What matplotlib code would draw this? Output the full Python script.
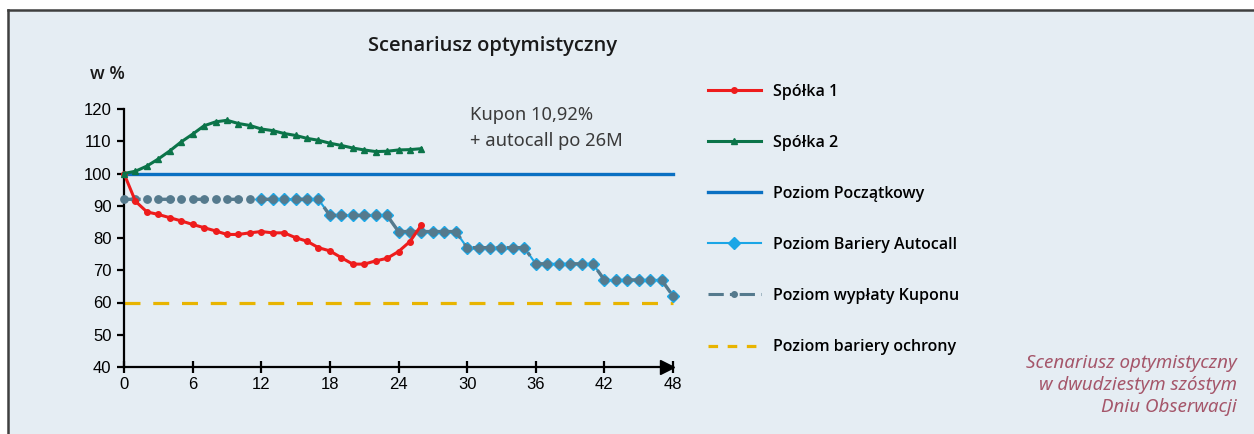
import matplotlib
matplotlib.use("Agg")
import matplotlib.pyplot as plt
import matplotlib.transforms as mtransforms
from matplotlib.lines import Line2D
from matplotlib.patches import Rectangle

# ---------------- data ----------------
months = list(range(0, 49))
spolka1_months = list(range(0, 27))
spolka1 = [100, 91.4, 88.1, 87.3, 86.3, 85.3, 84.2, 83.2, 82.2, 81.1, 81.1, 81.6, 82.0,
           81.6, 81.6, 80.1, 79.0, 77.0, 76.0, 73.9, 71.9, 71.9, 72.9, 73.7, 75.8, 78.9, 84.0]
spolka2 = [100, 100.7, 102.3, 104.5, 107.0, 109.8, 112.2, 114.8, 116.0, 116.5, 115.5, 114.9,
           113.8, 113.3, 112.4, 111.8, 110.9, 110.3, 109.4, 108.7, 107.9, 107.3, 106.8, 106.9,
           107.3, 107.4, 107.7]
poziom_poczatkowy = [100] * 49
autocall_months = list(range(12, 49))
autocall = [92] * 6 + [87] * 6 + [82] * 6 + [77] * 6 + [72] * 6 + [67] * 6 + [62]
kupon = [92] * 12 + autocall
ochrona = [60] * 49

xticks = [0, 6, 12, 18, 24, 30, 36, 42, 48]
yticks = [40, 50, 60, 70, 80, 90, 100, 110, 120]

labels = ["Spółka 1", "Spółka 2", "Poziom Początkowy", "Poziom Bariery Autocall",
          "Poziom wypłaty Kuponu", "Poziom bariery ochrony"]

# ---------------- colours ----------------
c_red = "#EE1C1C"
c_green = "#0B7449"
c_blue = "#0A70C2"
c_cyan = "#1AA6E6"
c_gray = "#557A8D"
c_yellow = "#E8B400"
bg = "#E5EDF3"

W, H = 1254, 434
fig = plt.figure(figsize=(W / 100, H / 100), dpi=100)
fig.patch.set_facecolor("white")

# panel background and border
fig.add_artist(Rectangle((8 / W, 0), 1 - 8 / W, 1 - 10 / H, transform=fig.transFigure,
                         facecolor=bg, edgecolor="none", zorder=-10))
fig.add_artist(Line2D([8 / W, 1], [1 - 10 / H, 1 - 10 / H], transform=fig.transFigure,
                      color="#3f3f3f", lw=1.8))
fig.add_artist(Line2D([8 / W, 8 / W], [0, 1 - 10 / H], transform=fig.transFigure,
                      color="#3f3f3f", lw=1.8))

ax = fig.add_axes([124 / W, (H - 367) / H, 549 / W, 258 / H])
ax.set_facecolor("none")
ax.set_xlim(0, 48)
ax.set_ylim(40, 120)

# series
ax.plot(months, ochrona, color=c_yellow, lw=2.3, dashes=(5, 4), clip_on=False, zorder=2)
ax.plot(months, poziom_poczatkowy, color=c_blue, lw=2.4, clip_on=False, zorder=3)
ax.plot(autocall_months, autocall, color=c_cyan, lw=1.5, marker="D", ms=6.5,
        mfc=c_cyan, mec=c_cyan, clip_on=False, zorder=4)
ax.plot(months, kupon, color=c_gray, lw=2.4, dashes=(5, 2, 1.2, 2), marker="o", ms=5.3,
        mfc=c_gray, mec=c_gray, clip_on=False, zorder=5)
ax.plot(spolka1_months, spolka1, color=c_red, lw=2.2, marker="o", ms=4,
        mfc=c_red, mec=c_red, clip_on=False, zorder=6)
ax.plot(spolka1_months, spolka2, color=c_green, lw=2.2, marker="^", ms=4.5,
        mfc=c_green, mec=c_green, clip_on=False, zorder=6)

# axes styling
for s in ["top", "right"]:
    ax.spines[s].set_visible(False)
for s in ["left", "bottom"]:
    ax.spines[s].set_linewidth(1.6)
    ax.spines[s].set_color("black")
ax.set_xticks(xticks)
ax.set_yticks(yticks)
tick_font = dict(family="Liberation Sans", size=12)
ax.set_xticklabels([str(t) for t in xticks], **tick_font)
ax.set_yticklabels([str(t) for t in yticks], **tick_font)
ax.tick_params(axis="x", direction="inout", length=9, width=1.6, pad=3)
ax.tick_params(axis="y", direction="out", length=5, width=1.6, pad=4)
# arrow head on the x axis
arrow_tr = ax.transAxes + mtransforms.ScaledTranslation(-6 / 100, 0, fig.dpi_scale_trans)
ax.plot([1.0], [0.0], marker=">", ms=10, color="black", transform=arrow_tr,
        clip_on=False, zorder=7)

# texts
semi = "semibold"
fig.text(493 / W, 1 - 46 / H, "Scenariusz optymistyczny", ha="center", va="center",
         family="Open Sans", fontsize=14.5, weight=semi, color="#1a1a1a")
fig.text(107 / W, 1 - 74 / H, "w %", ha="center", va="center", family="Open Sans",
         fontsize=13, weight=semi, color="#1a1a1a")
fig.text(470 / W, 1 - 128 / H, "Kupon 10,92%\n+ autocall po 26M", ha="left", va="center",
         family="Noto Sans", fontsize=13.2, color="#3a3a3a", linespacing=1.55, weight="light")
fig.text(1237 / W, 1 - 385 / H,
         "Scenariusz optymistyczny\nw dwudziestym szóstym\nDniu Obserwacji",
         ha="right", va="center", family="Noto Sans", style="italic", fontsize=13.5,
         color="#A5566A", linespacing=1.3, weight="light")

# legend
handles = [
    Line2D([], [], color=c_red, lw=2.2, marker="o", ms=4),
    Line2D([], [], color=c_green, lw=2.2, marker="^", ms=4),
    Line2D([], [], color=c_blue, lw=2.4),
    Line2D([], [], color=c_cyan, lw=1.5, marker="D", ms=6),
    Line2D([], [], color=c_gray, lw=2.2, dashes=(5, 2, 1.2, 2), marker="o", ms=4),
    Line2D([], [], color=c_yellow, lw=2.3, dashes=(3, 3)),
]
leg = fig.legend(handles, labels, loc="upper left", bbox_to_anchor=(708 / W, 1 - 83.5 / H),
                 frameon=False, handlelength=3.3, handletextpad=0.75, labelspacing=2.2,
                 numpoints=1, prop=dict(family="Open Sans", size=11.5, weight=semi),
                 borderaxespad=0, borderpad=0)

fig.savefig("out.png", dpi=100, facecolor=fig.get_facecolor())
